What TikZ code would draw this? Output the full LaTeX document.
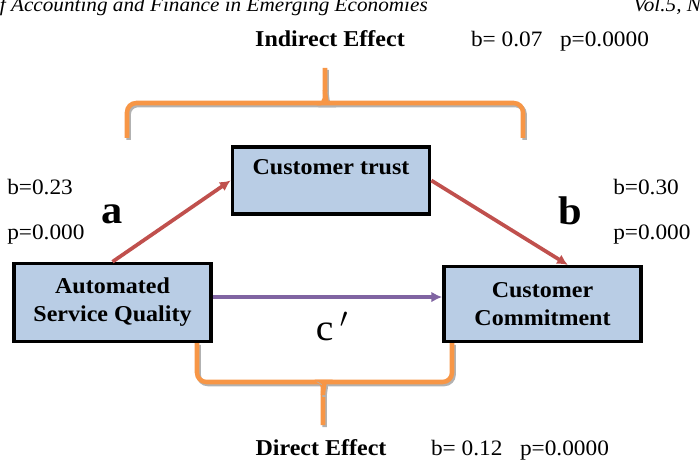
\documentclass[tikz,border=0pt]{standalone}
\usepackage{fontspec}
\setmainfont{Liberation Serif}[FakeStretch=1.06]
\usetikzlibrary{arrows.meta,positioning}

\definecolor{boxblue}{RGB}{185,205,229}
\definecolor{pathred}{RGB}{192,80,77}
\definecolor{pathpurple}{RGB}{128,100,162}
\definecolor{braceorange}{RGB}{247,150,70}

\tikzset{
  varbox/.style={draw=black, line width=2.6pt, fill=boxblue, align=center,
    font=\fontsize{17}{21}\selectfont\bfseries, minimum width=148pt, inner sep=0pt},
  patharrow/.style={line width=2.8pt, draw=#1, -{Latex[length=8pt,width=8pt]}},
  effbrace/.style={draw=braceorange, line width=3.4pt, rounded corners=7pt,
    preaction={draw=black!30, line width=3.4pt, transform canvas={shift={(1.2pt,-1.5pt)}}}},
  coef/.style={font=\fontsize{16.5}{20}\selectfont, inner sep=0pt},
  pathname/.style={font=\fontsize{30}{34}\selectfont\bfseries, inner sep=0pt},
  efftitle/.style={font=\fontsize{17}{20}\selectfont\bfseries, inner sep=0pt},
  header/.style={font=\fontsize{15}{18}\selectfont\itshape, inner sep=0pt},
}

\begin{document}
\begin{tikzpicture}[x=0.75pt, y=-0.75pt]
\useasboundingbox (0,0) rectangle (700,470);
\clip (0,0) rectangle (700,470);

% running header
\node[header, anchor=base east] (journal) at (428,12) {f Accounting and Finance in Emerging Economies};
\node[header, anchor=base west] (volume) at (633,12) {Vol.5, N};

% braces
\draw[effbrace] (127,138) -- (127,103) -- (316,103) .. controls (322,103) and (325,98) .. (325,90) -- (325,68);
\draw[effbrace] (523,138) -- (523,103) -- (334,103) .. controls (328,103) and (325,98) .. (325,90);
\draw[effbrace] (197,343) -- (197,382) -- (314,382) .. controls (320,382) and (323,387) .. (323,395) -- (323,425);
\draw[effbrace] (452,343) -- (452,382) -- (332,382) .. controls (326,382) and (323,387) .. (323,395);

% variables
\node[varbox, minimum height=50pt] (trust) at (331,180.5) {Customer trust\\\mbox{}};
\node[varbox, minimum height=58.5pt] (asq) at (112.5,302.5) {Automated\\Service Quality};
\node[varbox, minimum height=56pt] (commit) at (542.5,304) {Customer\\Commitment};

% paths
\draw[patharrow=pathred] (asq.north) -- (trust.west);
\draw[patharrow=pathred] (trust.east) -- ([xshift=19pt]commit.north);
\draw[patharrow=pathpurple] ([yshift=4.1pt]asq.east) -- ([yshift=4.1pt]asq.east -| commit.west);

% coefficients
\node[coef, anchor=base west] (ab) at (7,195) {b=0.23};
\node[coef, anchor=base west] (ap) at (7,240) {p=0.000};
\node[pathname] (alabel) at (112,214) {a};
\node[pathname] (blabel) at (570,211) {b};
\node[coef, anchor=base west] (bb) at (613,195) {b=0.30};
\node[coef, anchor=base west] (bp) at (613,240) {p=0.000};
\node[font=\fontsize{28}{32}\selectfont, inner sep=0pt, anchor=base] (clabel) at (332,340) {c\,$'$};

% effects
\node[efftitle, anchor=base] (indirect) at (330,47) {Indirect Effect};
\node[coef, anchor=base] (indirectcoef) at (560,47) {b= 0.07~~~p=0.0000};
\node[efftitle, anchor=base] (direct) at (321,455) {Direct Effect};
\node[coef, anchor=base] (directcoef) at (520,455) {b= 0.12~~~p=0.0000};
\end{tikzpicture}
\end{document}
